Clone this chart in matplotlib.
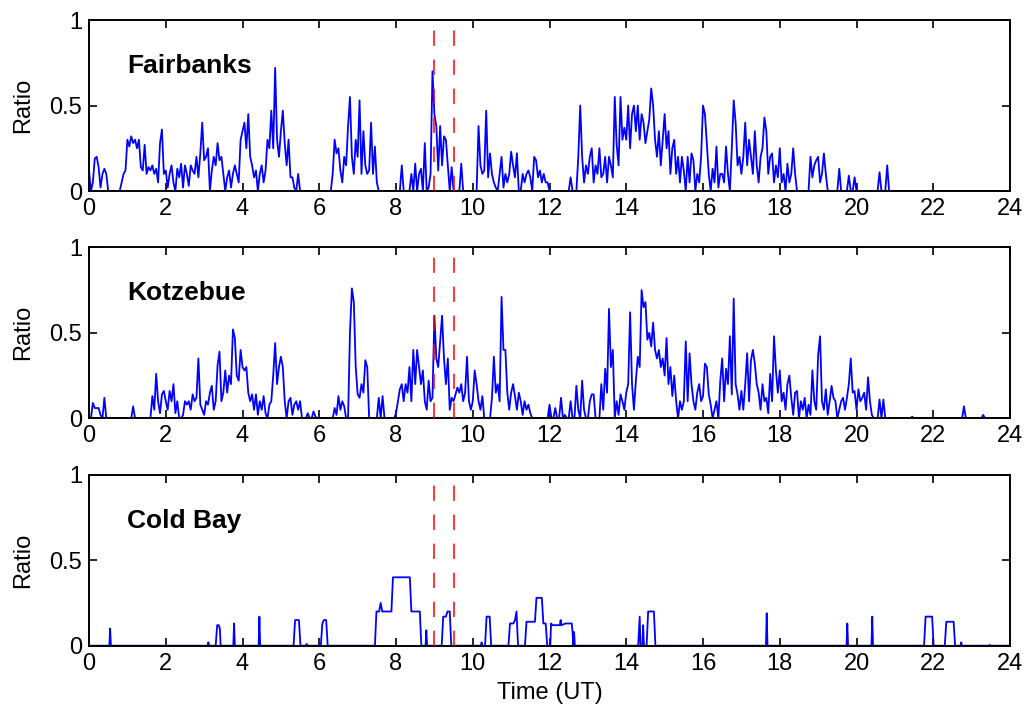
import numpy as np
import matplotlib
matplotlib.use("Agg")
import matplotlib.pyplot as plt

plt.rcParams['font.family'] = ['Liberation Sans', 'DejaVu Sans']

# ---------------- data ----------------
station_names = ["Fairbanks", "Kotzebue", "Cold Bay"]
event_times = [9.0, 9.5]
x_ticks = list(range(0, 25, 2))
y_ticks = [0, 0.5, 1]
y_tick_labels = ["0", "0.5", "1"]
x_label = "Time (UT)"
y_label = "Ratio"

sample_step_h = 0.05  # hours between samples, 20 samples per hour

# Fairbanks ratio, one row per hour (0.05 h steps)
fairbanks_rows = [
    [0.12, 0, 0.05, 0.19, 0.2, 0.14, 0.02, 0.1, 0.13, 0.1, 0, 0, 0, 0, 0, 0, 0, 0.05, 0.1, 0.12],
    [0.3, 0.26, 0.32, 0.28, 0.3, 0.25, 0.3, 0.14, 0.12, 0.27, 0.1, 0.14, 0.12, 0.15, 0.1, 0.13, 0.05, 0.28, 0.36, 0.1],
    [0.12, 0.02, 0.1, 0.15, 0.05, 0, 0.13, 0.08, 0.16, 0.02, 0.15, 0.1, 0.03, 0.15, 0.12, 0.1, 0.2, 0.08, 0.22, 0.4],
    [0.18, 0.2, 0.25, 0, 0.12, 0.2, 0.15, 0.28, 0.18, 0.2, 0.1, 0, 0.08, 0.12, 0.02, 0.1, 0.15, 0.1, 0.05, 0.3],
    [0.35, 0.4, 0.25, 0.45, 0.2, 0.15, 0.08, 0.12, 0, 0.1, 0.15, 0.05, 0.12, 0.3, 0.25, 0.47, 0.25, 0.72, 0.3, 0.2],
    [0.35, 0.47, 0.28, 0.15, 0.3, 0.08, 0.08, 0.02, 0, 0.1, 0, 0, 0, 0, 0, 0, 0, 0, 0, 0],
    [0, 0, 0, 0, 0, 0, 0, 0.1, 0.3, 0.22, 0.25, 0.12, 0.05, 0.2, 0.15, 0.38, 0.55, 0.2, 0.1, 0.3],
    [0.2, 0.53, 0.1, 0.35, 0.15, 0.1, 0.12, 0.4, 0.1, 0.26, 0.05, 0, 0, 0, 0, 0, 0, 0, 0, 0],
    [0, 0, 0, 0.15, 0, 0, 0, 0, 0.1, 0, 0.16, 0, 0.1, 0.13, 0, 0.28, 0, 0.02, 0.1, 0.7],
    [0.45, 0.38, 0.12, 0.38, 0.15, 0.32, 0.3, 0.15, 0, 0.14, 0, 0, 0, 0, 0.16, 0, 0, 0, 0, 0],
    [0, 0, 0, 0.38, 0.15, 0.1, 0.12, 0.47, 0.08, 0.22, 0.1, 0.05, 0.02, 0, 0.1, 0.2, 0.02, 0.1, 0.05, 0.1],
    [0.23, 0.15, 0.08, 0.22, 0, 0, 0.1, 0.05, 0.1, 0.12, 0.08, 0, 0.2, 0.18, 0.08, 0.12, 0.05, 0.1, 0.05, 0.05],
    [0, 0, 0, 0, 0, 0, 0, 0, 0, 0, 0, 0.08, 0, 0, 0, 0.2, 0.5, 0.2, 0.05, 0.15],
    [0.1, 0.2, 0.25, 0.05, 0.15, 0.1, 0.25, 0.08, 0.1, 0.2, 0.05, 0.2, 0.15, 0.08, 0.55, 0.27, 0.15, 0.55, 0.3, 0.37],
    [0.3, 0.5, 0.25, 0.45, 0.5, 0.35, 0.5, 0.3, 0.45, 0.4, 0.28, 0.35, 0.42, 0.6, 0.5, 0.3, 0.2, 0.35, 0.15, 0.3],
    [0.45, 0.25, 0.35, 0.1, 0.25, 0.3, 0.1, 0.2, 0.05, 0.2, 0.12, 0, 0.2, 0.05, 0.22, 0.18, 0, 0.1, 0.05, 0.2],
    [0.5, 0.45, 0.27, 0.1, 0, 0.13, 0.05, 0.26, 0.02, 0.1, 0.1, 0.05, 0.26, 0.1, 0, 0.25, 0.53, 0.4, 0.15, 0.2],
    [0.1, 0.2, 0.4, 0.15, 0.3, 0.2, 0.1, 0.35, 0.15, 0.05, 0.2, 0.25, 0.43, 0.35, 0.1, 0.2, 0.22, 0.05, 0.15, 0.08],
    [0.25, 0.05, 0.1, 0, 0.16, 0.05, 0.1, 0.25, 0.1, 0, 0, 0, 0, 0, 0, 0, 0.2, 0.08, 0.15, 0.18],
    [0.2, 0.05, 0.1, 0.22, 0.1, 0, 0, 0, 0, 0, 0, 0.13, 0, 0, 0, 0, 0.09, 0, 0, 0.08],
    [0, 0, 0, 0, 0, 0, 0, 0, 0, 0, 0, 0, 0.11, 0, 0, 0, 0.15, 0, 0, 0],
    [0] * 20,
    [0] * 20,
    [0] * 20,
]

# Kotzebue ratio, one row per hour (0.05 h steps)
kotzebue_rows = [
    [0, 0, 0.09, 0.06, 0.06, 0.06, 0.02, 0, 0.12, 0, 0, 0, 0, 0, 0, 0, 0, 0, 0, 0],
    [0, 0, 0, 0.07, 0, 0, 0, 0, 0, 0, 0, 0, 0, 0.13, 0.05, 0.26, 0.1, 0.03, 0.14, 0.16],
    [0.1, 0.05, 0.16, 0.1, 0.2, 0.03, 0.1, 0, 0, 0.02, 0.1, 0.08, 0.1, 0.05, 0.14, 0.1, 0.12, 0.35, 0.08, 0.05],
    [0.02, 0.1, 0.08, 0.15, 0.19, 0.05, 0.1, 0.31, 0.39, 0.1, 0.15, 0.28, 0.15, 0.25, 0.2, 0.52, 0.47, 0.25, 0.22, 0.4],
    [0.3, 0.28, 0.3, 0.15, 0.1, 0.14, 0.05, 0.14, 0.02, 0.1, 0.05, 0.13, 0.03, 0, 0.08, 0.1, 0.25, 0.44, 0.2, 0.3],
    [0.36, 0.3, 0.1, 0, 0.1, 0.12, 0.02, 0.08, 0.1, 0.05, 0.1, 0, 0, 0, 0.03, 0, 0, 0.04, 0.01, 0],
    [0, 0, 0, 0, 0, 0, 0, 0, 0.06, 0.02, 0.13, 0.05, 0.1, 0.07, 0, 0, 0.5, 0.76, 0.68, 0.3],
    [0.14, 0.12, 0.2, 0.15, 0.34, 0.3, 0, 0, 0, 0, 0, 0.12, 0, 0.13, 0, 0, 0, 0, 0, 0],
    [0.03, 0.1, 0.17, 0.2, 0.1, 0.2, 0.15, 0.3, 0.1, 0.4, 0.2, 0.4, 0.3, 0.2, 0.28, 0.1, 0.05, 0.22, 0.1, 0.12],
    [0.6, 0.35, 0.3, 0.45, 0.6, 0.35, 0.2, 0.35, 0.05, 0.12, 0.1, 0.14, 0.18, 0.15, 0.2, 0.1, 0.15, 0.36, 0.1, 0.05],
    [0.1, 0.28, 0.2, 0.1, 0.05, 0.13, 0, 0, 0, 0, 0.12, 0.36, 0.15, 0.2, 0.1, 0.71, 0.4, 0.4, 0.15, 0.05],
    [0.15, 0.2, 0.13, 0.05, 0.15, 0.1, 0.02, 0.1, 0.05, 0.08, 0.03, 0, 0, 0, 0, 0, 0, 0, 0, 0],
    [0.08, 0, 0, 0.06, 0, 0, 0.12, 0, 0.02, 0, 0, 0.1, 0, 0, 0.19, 0.05, 0, 0.22, 0.05, 0],
    [0, 0.1, 0.14, 0.14, 0, 0, 0, 0.2, 0.05, 0.29, 0.15, 0.64, 0.3, 0.4, 0, 0.1, 0.02, 0.14, 0.1, 0.05],
    [0.15, 0.2, 0.62, 0.2, 0.05, 0.22, 0.36, 0.3, 0.75, 0.65, 0.68, 0.46, 0.5, 0.42, 0.56, 0.4, 0.35, 0.4, 0.3, 0.35],
    [0.25, 0.47, 0.2, 0.3, 0.13, 0.25, 0.1, 0, 0.1, 0.05, 0.1, 0.45, 0.1, 0.38, 0.2, 0.1, 0.05, 0.15, 0.2, 0.1],
    [0.13, 0.32, 0.3, 0.14, 0.08, 0, 0.05, 0.1, 0, 0.22, 0.35, 0.1, 0.29, 0.2, 0.48, 0.14, 0.7, 0.2, 0.14, 0.05],
    [0.16, 0.05, 0.2, 0.38, 0.1, 0.34, 0.4, 0.32, 0.2, 0.15, 0.05, 0.2, 0.1, 0.12, 0.03, 0.26, 0.1, 0.48, 0.28, 0.15],
    [0.28, 0.1, 0.15, 0.05, 0.2, 0.25, 0.12, 0.02, 0.15, 0.16, 0, 0.1, 0.05, 0.12, 0, 0.08, 0.02, 0.28, 0.1, 0.05],
    [0.37, 0.48, 0.1, 0.05, 0.17, 0.02, 0.1, 0.19, 0.12, 0.1, 0, 0.05, 0.1, 0.12, 0.05, 0.12, 0.2, 0.35, 0.15, 0.16],
    [0.05, 0.17, 0.1, 0.12, 0.15, 0.05, 0.24, 0.1, 0.02, 0, 0, 0, 0.11, 0, 0.11, 0, 0, 0, 0, 0],
    [0, 0, 0, 0, 0, 0, 0, 0, 0, 0.01, 0, 0, 0, 0, 0, 0, 0, 0, 0, 0],
    [0, 0, 0, 0, 0, 0, 0, 0, 0, 0, 0, 0, 0, 0, 0, 0, 0.07, 0, 0, 0],
    [0, 0, 0, 0, 0, 0, 0.02, 0, 0, 0, 0, 0, 0, 0, 0, 0, 0, 0, 0, 0],
]

# Cold Bay ratio: breakpoints (time in hours, ratio)
coldbay_time = [
    0, 0.53, 0.55, 0.57,
    3.09, 3.11, 3.13,
    3.30, 3.34, 3.38, 3.41, 3.43,
    3.76, 3.78, 3.80,
    4.42, 4.44, 4.46,
    5.33, 5.37, 5.47, 5.51,
    5.65, 5.67, 5.69,
    6.04, 6.08, 6.12, 6.18, 6.22,
    7.45, 7.49, 7.56, 7.60, 7.64, 7.88, 7.92, 8.36, 8.40, 8.62, 8.66,
    8.77, 8.79, 8.81,
    9.19, 9.23, 9.30, 9.34, 9.40, 9.44,
    10.21, 10.23, 10.25,
    10.32, 10.36, 10.44, 10.48,
    10.93, 10.97, 11.06, 11.10, 11.14, 11.18,
    11.36, 11.40, 11.62, 11.66, 11.80, 11.84, 11.90, 11.94,
    12.02, 12.04, 12.08, 12.27, 12.29, 12.31, 12.42, 12.58, 12.60, 12.62, 12.64, 12.66,
    14.31, 14.35, 14.37, 14.42, 14.44, 14.46,
    14.53, 14.57, 14.72, 14.76,
    17.64, 17.66, 17.68,
    19.74, 19.76, 19.78,
    20.39, 20.41, 20.43,
    21.76, 21.80, 21.97, 22.01,
    22.30, 22.34, 22.53, 22.57,
    22.71, 22.73, 22.75,
    23.45, 23.47, 23.49, 24,
]
coldbay_ratio = [
    0, 0, 0.10, 0,
    0, 0.02, 0,
    0, 0.12, 0.12, 0.10, 0,
    0, 0.13, 0,
    0, 0.17, 0,
    0, 0.15, 0.15, 0,
    0, 0.01, 0,
    0, 0.13, 0.15, 0.15, 0,
    0, 0.20, 0.20, 0.25, 0.20, 0.20, 0.40, 0.40, 0.20, 0.20, 0,
    0, 0.09, 0,
    0, 0.17, 0.17, 0.20, 0.20, 0,
    0, 0.02, 0,
    0, 0.17, 0.17, 0,
    0, 0.13, 0.13, 0.15, 0.20, 0,
    0, 0.14, 0.14, 0.28, 0.28, 0.13, 0.13, 0,
    0, 0.13, 0.12, 0.12, 0.15, 0.12, 0.13, 0.13, 0.08, 0, 0.08, 0,
    0, 0.17, 0, 0, 0.12, 0,
    0, 0.20, 0.20, 0,
    0, 0.19, 0,
    0, 0.13, 0,
    0, 0.17, 0,
    0, 0.17, 0.17, 0,
    0, 0.14, 0.14, 0,
    0, 0.02, 0,
    0, 0.005, 0, 0,
]

# ---------------- build series ----------------
fairbanks_ratio = np.concatenate([np.array(r, dtype=float) for r in fairbanks_rows])
kotzebue_ratio = np.concatenate([np.array(r, dtype=float) for r in kotzebue_rows])
sample_time = np.arange(len(fairbanks_ratio)) * sample_step_h
# close the record at 24 h
fb_t = np.append(sample_time, 24.0)
fb_v = np.append(fairbanks_ratio, 0.0)
kz_t = np.append(sample_time, 24.0)
kz_v = np.append(kotzebue_ratio, 0.0)

series = [(fb_t, fb_v), (kz_t, kz_v), (np.array(coldbay_time), np.array(coldbay_ratio))]

# ---------------- figure ----------------
fig = plt.figure(figsize=(10.28, 7.13), dpi=100)
left, width, height = 0.0866, 0.8959, 0.2398
bottoms = [0.7321, 0.4133, 0.0944]

for i, (name, (t, v), b) in enumerate(zip(station_names, series, bottoms)):
    ax = fig.add_axes([left, b, width, height])
    ax.plot(t, v, color=(0, 0, 1), lw=1.3, zorder=2)
    for et in event_times:
        ax.axvline(et, color=(1, 0, 0), lw=1.1, linestyle=(0, (10, 9)), zorder=3)
    ax.set_xlim(0, 24)
    ax.set_ylim(0, 1)
    ax.set_xticks(x_ticks)
    ax.set_xticklabels([str(x) for x in x_ticks])
    ax.set_yticks(y_ticks)
    ax.set_yticklabels(y_tick_labels)
    ax.tick_params(direction='in', length=6, width=1.2, top=True, right=True,
                   labelsize=17, pad=5, colors='black')
    for sp in ax.spines.values():
        sp.set_linewidth(1.4)
        sp.set_color('black')
    ax.set_ylabel(y_label, fontsize=17, labelpad=11)
    ax.text(1.0, 0.69, name, fontsize=19, fontweight='bold', ha='left', va='baseline')
    if i == 2:
        ax.set_xlabel(x_label, fontsize=17, labelpad=5)

fig.savefig("out.png", dpi=100)
